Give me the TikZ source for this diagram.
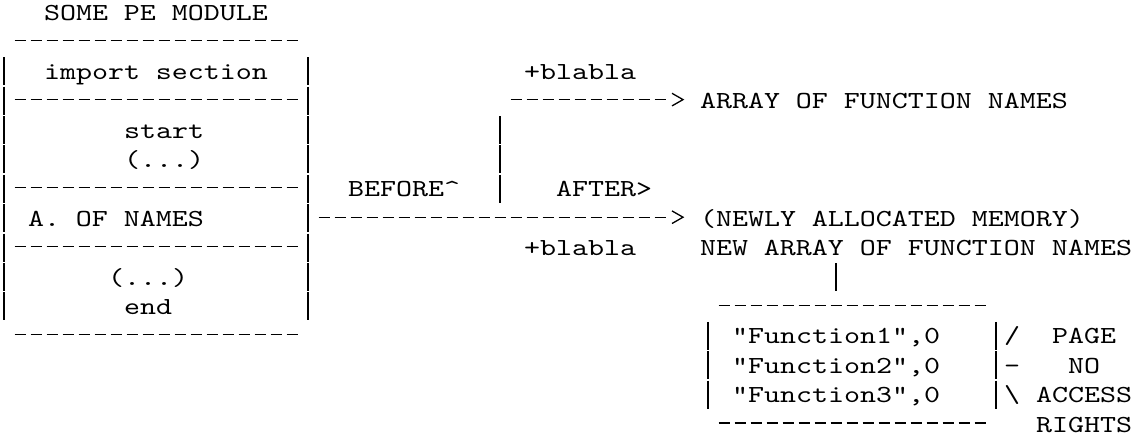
\documentclass[tikz,border=0pt]{standalone}
\usepackage{fontspec}
\usetikzlibrary{calc}
% Typewriter face, widened so that one character cell is 16pt
\newfontfamily\asciiface[FakeStretch=1.244]{lmmono10-regular.otf}
\newcommand\asciifont{\asciiface\fontsize{24.5pt}{29.4pt}\selectfont}
% chevron head drawn with its point at the given coordinate
\newcommand\chevronhead[1]{\draw[chev] ($(#1)+(-11,-6.3)$) -- (#1) -- ($(#1)+(-11,6.3)$);}

\begin{document}
\begin{tikzpicture}[x=1pt,y=-1pt,
  lbl/.style={anchor=base west, inner sep=0pt, outer sep=0pt, font=\asciifont, text=black},
  hrule/.style={line width=1.3pt, dash pattern=on 11pt off 5pt, line cap=butt},
  vrule/.style={line width=1.5pt, dash pattern=on 28pt off 1.4pt, line cap=butt},
  chev/.style={line width=1.3pt, line join=miter, line cap=butt}]
\useasboundingbox (0,4.6) rectangle (1138,441.6);

% ---- labels ----
\node[lbl] (title)  at (44,25)     {SOME PE MODULE};
\node[lbl] (imp)    at (44,83.8)   {import section};
\node[lbl] (bla1)   at (524,83.8)  {+blabla};
\node[lbl] (arr)    at (700,113.2) {ARRAY OF FUNCTION NAMES};
\node[lbl] (start)  at (124,142.6) {start};
\node[lbl] (dotsA)  at (124,172.0) {(...)};
\node[lbl] (before) at (348,201.4) {BEFORE\textasciicircum};
\node[lbl] (after)  at (556,201.4) {AFTER>};
\node[lbl] (aon)    at (28,230.8)  {A. OF NAMES};
\node[lbl] (newmem) at (700,230.8) {(NEWLY ALLOCATED MEMORY)};
\node[lbl] (bla2)   at (524,260.2) {+blabla};
\node[lbl] (newarr) at (700,260.2) {NEW ARRAY OF FUNCTION NAMES};
\node[lbl] (dotsB)  at (108,289.6) {(...)};
\node[lbl] (endtxt) at (124,319.0) {end};
\node[lbl] (fa)     at (732,348.4) {"Function1",0};
\node[lbl] (fb)     at (732,377.8) {"Function2",0};
\node[lbl] (fc)     at (732,407.2) {"Function3",0};
\node[lbl] (bra)    at (1004,348.4) {/};
\node[lbl] (brb)    at (1004,377.8) {-};
\node[lbl] (brc)    at (1004,407.2) {\textbackslash};
\node[lbl] (page)   at (1052,348.4) {PAGE};
\node[lbl] (no)     at (1068,377.8) {NO};
\node[lbl] (access) at (1036,407.2) {ACCESS};
\node[lbl] (rights) at (1036,436.6) {RIGHTS};

% ---- module box ----
\foreach \y in {45.4,104.2,192.4,251.2,339.4}
  \draw[hrule] (14.5,\y) -- (297.5,\y);
\draw[vrule] (4,61.8) -- (4,325.0);
\draw[vrule] (308,61.8) -- (308,325.0);

% ---- array box ----
\foreach \y in {310.0,427.6}
  \draw[hrule] (718.5,\y) -- (985.5,\y);
\draw[vrule] (708,326.4) -- (708,413.2);
\draw[vrule] (996,326.4) -- (996,413.2);

% ---- connectors ----
\coordinate (forktop) at (500,120.6);
\coordinate (forkbot) at (500,207.4);
\draw[vrule] (forktop) -- (forkbot);

\coordinate (upstart) at (510.5,104.2);
\coordinate (upend)   at ($(arr.base west)+(-34.5,-9)$);
\coordinate (uptip)   at ($(arr.base west)+(-17,-9)$);
\draw[hrule] (upstart) -- (upend);
\chevronhead{uptip}

\coordinate (lostart) at (318.5,221.8);
\coordinate (loend)   at ($(newmem.base west)+(-34.5,-9)$);
\coordinate (lotip)   at ($(newmem.base west)+(-17,-9)$);
\draw[hrule] (lostart) -- (loend);
\chevronhead{lotip}

\coordinate (stemtop) at ($(newarr.base west)+(136,7.4)$);
\coordinate (stembot) at ($(newarr.base west)+(136,35.4)$);
\draw[vrule] (stemtop) -- (stembot);
\end{tikzpicture}
\end{document}
